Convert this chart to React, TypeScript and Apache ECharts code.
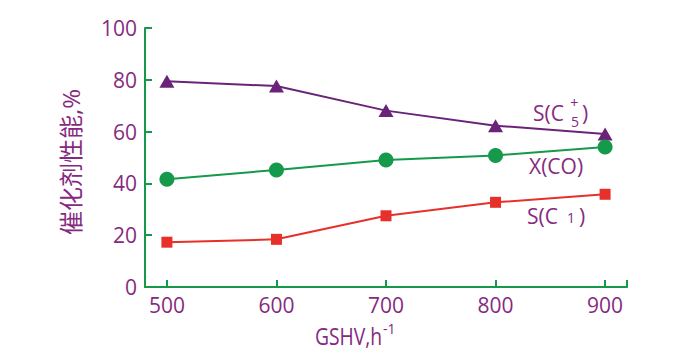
import React, { useEffect, useRef } from "react";
import * as echarts from "echarts";

const gshv = [500, 600, 700, 800, 900];
const selC5 = [79.4, 77.6, 68.1, 62.3, 59.1];
const convCO = [41.6, 45.2, 49.0, 50.8, 54.1];
const selC1 = [17.3, 18.4, 27.5, 32.7, 35.8];
const xTicks = [500, 600, 700, 800, 900];
const xTickMarks = [500, 600, 700, 800, 900, 920];
const yAxisTitle = "催化剂性能,%";
const xAxisTitle = "GSHV,h";

const PURPLE = "#6a2378";
const TEXT = "#862a80";
const GREEN = "#15994a";
const RED = "#e8302a";
const FONT = "'Open Sans', 'Noto Sans CJK SC', sans-serif";

export default function App() {
  const ref = useRef<HTMLDivElement>(null);
  useEffect(() => {
    if (!ref.current) return;
    const chart = echarts.init(ref.current, null, { renderer: "svg" });
    const pair = (xs: number[], ys: number[]) => xs.map((x, i) => [x, ys[i]]);
    const t = (text: string, x: number, y: number, size: number, extra: any = {}) => ({
      type: "text",
      x,
      y,
      ...extra,
      style: { text, fill: TEXT, font: `${size}px ${FONT}`, textVerticalAlign: "middle" },
    });
    chart.setOption({
      animation: false,
      backgroundColor: "#ffffff",
      grid: { left: 145, top: 28, right: 61, bottom: 67, containLabel: false },
      xAxis: {
        type: "value",
        min: 480,
        max: 920,
        axisLine: { lineStyle: { color: GREEN, width: 2 } },
        axisTick: { inside: true, length: 7, customValues: xTickMarks, lineStyle: { color: GREEN, width: 2 } },
        axisLabel: { customValues: xTicks, color: TEXT, fontSize: 21, fontFamily: FONT, margin: 7 },
        splitLine: { show: false },
      },
      yAxis: {
        type: "value",
        min: 0,
        max: 100,
        interval: 20,
        axisLine: { show: true, lineStyle: { color: GREEN, width: 2 } },
        axisTick: { show: true, inside: true, length: 7, lineStyle: { color: GREEN, width: 2 } },
        axisLabel: { color: TEXT, fontSize: 21, fontFamily: FONT, margin: 8 },
        splitLine: { show: false },
      },
      series: [
        {
          type: "line",
          data: pair(gshv, selC5),
          symbol: "triangle",
          symbolSize: [15, 13],
          color: PURPLE,
          lineStyle: { color: PURPLE, width: 2 },
          itemStyle: { color: PURPLE },
        },
        {
          type: "line",
          data: pair(gshv, convCO),
          symbol: "circle",
          symbolSize: 15,
          color: GREEN,
          lineStyle: { color: GREEN, width: 2 },
          itemStyle: { color: GREEN },
        },
        {
          type: "line",
          data: pair(gshv, selC1),
          symbol: "rect",
          symbolSize: 11,
          color: RED,
          lineStyle: { color: RED, width: 2 },
          itemStyle: { color: RED },
        },
      ],
      graphic: [
        {
          type: "text",
          x: 70,
          y: 162,
          rotation: Math.PI / 2,
          style: {
            text: yAxisTitle,
            fill: TEXT,
            font: `24px ${FONT}`,
            textAlign: "center",
            textVerticalAlign: "middle",
          },
        },
        t(xAxisTitle, 315, 336, 23, { scaleX: 0.84 }),
        t("-1", 383, 328, 14),
        t("S(C", 533, 113, 21),
        t("+", 570, 102, 15),
        t("5", 571, 121, 14),
        t(")", 582, 113, 21),
        t("X(CO)", 529, 166, 21),
        t("S(C", 527, 216, 21),
        t("1", 567, 217, 14),
        t(")", 579, 216, 21),
      ],
    });
    return () => chart.dispose();
  }, []);
  return <div ref={ref} style={{ position: "fixed", left: 0, top: 0, width: 688, height: 354 }} />;
}
